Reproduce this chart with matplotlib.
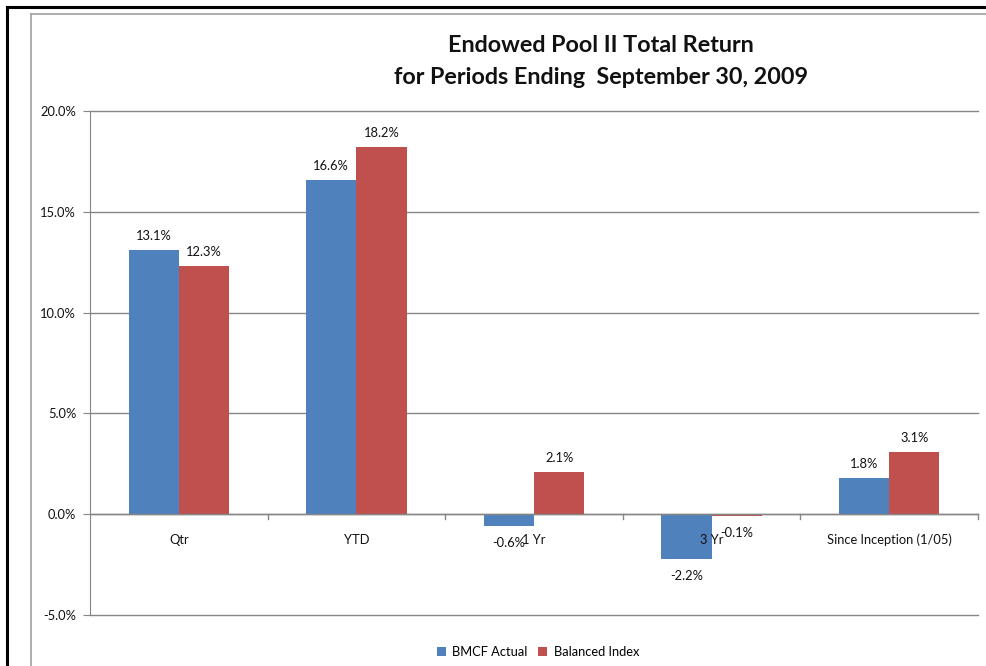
import matplotlib.pyplot as plt
import matplotlib.lines as mlines
import numpy as np

plt.rcParams['font.family'] = ['Lato', 'DejaVu Sans']

# ---- data ----
categories = ['Qtr', 'YTD', '1 Yr', '3 Yr', 'Since Inception (1/05)']
bmcf_actual = [13.1, 16.6, -0.6, -2.2, 1.8]
balanced_index = [12.3, 18.2, 2.1, -0.1, 3.1]
series_names = ['BMCF Actual', 'Balanced Index']
series_colors = ['#4F81BD', '#C0504D']
y_ticks = [-5, 0, 5, 10, 15, 20]

W, H = 987, 666
fig = plt.figure(figsize=(W / 100, H / 100), dpi=100)
ax = fig.add_axes([90 / W, 1 - 615 / H, (978 - 90) / W, (615 - 111) / H])

x = np.arange(len(categories))
bw = 0.283
grid_c = '#868686'
txt_c = '#111111'
fs = 9.3

ax.set_axisbelow(True)
for yv in y_ticks:
    ax.axhline(yv, color=grid_c, lw=1.0, zorder=0, clip_on=False)

for i, (vals, name, col) in enumerate(zip([bmcf_actual, balanced_index], series_names, series_colors)):
    xs = x + (i - 0.5) * bw
    ax.bar(xs, vals, width=bw, color=col, label=name, zorder=2)
    for xx, v in zip(xs, vals):
        off = 14 if v >= 0 else -17
        ax.annotate(f'{v:.1f}%', (xx, v), xytext=(0, off), textcoords='offset pixels',
                    ha='center', va='center', fontsize=fs, color=txt_c, zorder=3)

ax.axhline(0, color=grid_c, lw=1.0, zorder=2.5)
# category boundary ticks on the zero line
for b in np.arange(0.5, len(categories) + 0.5, 1.0):
    ax.plot([b, b], [0, -0.25], color=grid_c, lw=1.0, zorder=2.5, clip_on=False)
for i, c in enumerate(categories):
    ax.annotate(c, (i, 0), xytext=(0, -26), textcoords='offset pixels',
                ha='center', va='center', fontsize=fs, color=txt_c)

ax.set_xlim(-0.5, len(categories) - 0.5)
ax.set_ylim(-5, 20)
ax.set_yticks(y_ticks)
ax.set_yticklabels([f'{t:.1f}%' for t in y_ticks], fontsize=fs, color=txt_c)
ax.tick_params(axis='y', length=5, color=grid_c, pad=5)
ax.set_xticks([])
for s in ['top', 'right', 'bottom']:
    ax.spines[s].set_visible(False)
ax.spines['left'].set_color(grid_c)

fig.text(601 / W, 1 - 45 / H, 'Endowed Pool II Total Return', ha='center', va='center',
         fontsize=16.8, fontweight='bold', color=txt_c)
fig.text(601 / W, 1 - 77 / H, 'for Periods Ending  September 30, 2009', ha='center', va='center',
         fontsize=16.8, fontweight='bold', color=txt_c)

fig.legend(loc='center', bbox_to_anchor=(538 / W, 1 - 652 / H), ncol=2, frameon=False,
           fontsize=fs, handlelength=0.7, handleheight=0.7, handletextpad=0.5, columnspacing=0.8)

# chart area border and outer frame
fig.add_artist(mlines.Line2D([31 / W, 31 / W], [0, 1 - 13.5 / H], color='#A0A0A0', lw=1.2))
fig.add_artist(mlines.Line2D([31 / W, 1], [1 - 13.5 / H, 1 - 13.5 / H], color='#A0A0A0', lw=1.2))
fig.add_artist(mlines.Line2D([7.5 / W, 7.5 / W], [0, 1 - 7 / H], color='black', lw=2.2))
fig.add_artist(mlines.Line2D([7.5 / W, 1], [1 - 7 / H, 1 - 7 / H], color='black', lw=2.2))

plt.savefig('out.png', dpi=100)
